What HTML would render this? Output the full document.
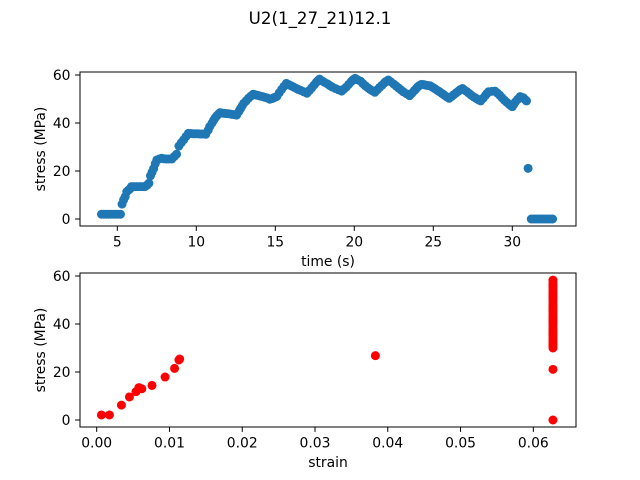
<!DOCTYPE html>
<html><head><meta charset="utf-8"><style>
body{margin:0;background:#fff;}
svg{display:block;font-family:"DejaVu Sans","Liberation Sans",sans-serif;}
</style></head><body>
<svg id="fig" width="640" height="480">
<rect width="640" height="480" fill="#fff"/>
<text x="320" y="24" font-size="16.7" text-anchor="middle">U2(1_27_21)12.1</text>
<g id="top"></g>
<g id="bot"></g>
</svg>
<script>
const timeVals=[4.0,4.15,4.3,4.45,4.6,4.75,4.9,5.05,5.2,5.3,5.4,5.5,5.6,5.7,5.8,5.9,6.05,6.2,6.35,6.5,6.65,6.75,6.9,7.0,7.1,7.2,7.3,7.4,7.5,7.65,7.8,7.95,8.1,8.25,8.45,8.6,8.75,8.9,9.05,9.2,9.35,9.5,9.65,9.8,9.95,10.1,10.25,10.4,10.6,10.75,10.85,11.0,11.1,11.2,11.3,11.4,11.5,11.65,11.8,11.95,12.1,12.25,12.4,12.55,12.7,12.8,12.9,13.0,13.15,13.3,13.45,13.6,13.75,13.9,14.05,14.2,14.35,14.5,14.65,14.8,14.9,15.0,15.1,15.25,15.4,15.55,15.7,15.85,16.0,16.15,16.3,16.45,16.6,16.8,17.0,17.15,17.3,17.45,17.6,17.7,17.8,17.95,18.1,18.3,18.45,18.6,18.8,19.0,19.2,19.35,19.5,19.65,19.8,19.9,20.05,20.2,20.4,20.55,20.7,20.85,21.0,21.15,21.3,21.45,21.6,21.75,21.9,22.0,22.15,22.3,22.5,22.65,22.8,22.95,23.1,23.3,23.5,23.65,23.8,23.9,24.0,24.1,24.25,24.4,24.5,24.65,24.8,24.95,25.1,25.25,25.4,25.55,25.7,25.85,26.0,26.15,26.3,26.45,26.6,26.7,26.85,26.95,27.1,27.25,27.4,27.55,27.7,27.85,28.0,28.15,28.3,28.4,28.5,28.7,28.9,29.05,29.2,29.35,29.5,29.65,29.8,29.9,30.0,30.1,30.2,30.35,30.5,30.6,30.7,30.8,30.9,31.0,31.2,31.35,31.5,31.65,31.8,31.95,32.1,32.25,32.4,32.55];
const stressVals=[2,2,2,2,2,2,2,2,2,6.2,8,9.3,11.4,12,12.5,13.5,13.5,13.5,13.5,13.5,13.5,13.5,14.2,14.9,18,19.5,21,23,24.6,25,25.3,25.1,25,25,25,26,27,30.4,31.8,33,34.4,35.7,35.6,35.5,35.5,35.5,35.4,35.4,35.3,37,38.5,40,41.2,42.2,43,43.7,44.3,44.1,44,43.9,43.8,43.6,43.5,43.3,44.8,46,47.1,48.2,49.2,50.3,51.2,52,51.7,51.5,51.2,51,50.7,50.4,49.9,50.2,50.5,50.8,51.1,52.6,54,55.3,56.5,56,55.5,55,54.5,54,53.6,53,52.4,53.5,54.6,55.8,57,57.7,58.3,57.6,57,56.3,55.6,55,54.4,53.8,53.3,54.2,55,56.1,57.2,57.9,58.6,58,57.4,56.4,55.5,54.7,54,53.4,52.8,53.8,54.8,55.7,56.7,57.3,57.9,57.2,56.2,55.4,54.6,53.8,53,52.2,51.4,52.4,53.5,54.2,55,55.5,56.1,56,55.8,55.6,55.5,54.9,54.3,53.6,53,52.3,51.6,50.9,50.3,51,51.8,52.6,53.3,53.9,54.4,53.8,53.2,52.4,51.6,50.9,50.3,49.7,49.2,50.3,51.5,52.3,53,53.2,53.3,52.5,51.6,50.5,49.5,48.6,47.8,47.3,46.8,47.8,48.8,49.9,51,50.7,50.5,49.8,49.2,21.1,0,0,0,0,0,0,0,0,0,0];
const strainVals=[0.00065,0.00175,0.0034,0.0045,0.0054,0.0058,0.0062,0.0076,0.0094,0.0107,0.0113,0.0114,0.0383,0.0627,0.0627,0.0627,0.0627,0.0627,0.0627,0.0627,0.0627,0.0627,0.0627,0.0627,0.0627,0.0627,0.0627,0.0627,0.0627,0.0627,0.0627,0.0627,0.0627,0.0627,0.0627,0.0627,0.0627,0.0627,0.0627,0.0627,0.0627,0.0627,0.0627,0.0627];
const strainStress=[2.1,2.1,6.2,9.6,11.8,13.5,13,14.4,17.9,21.5,25,25.4,26.8,0,21.1,30,31,32,33,34,35,36,37,38,39,40,41,42,43,44,45,46,47,48,49,50,51,52,53,54,55,56,57,58.3];
const timeTicks=[5,10,15,20,25,30];
const strainTicks=[0.00,0.01,0.02,0.03,0.04,0.05,0.06];
const stressTicks=[0,20,40,60];

const NS="http://www.w3.org/2000/svg";
function mk(tag,attrs,parent,txt){const e=document.createElementNS(NS,tag);for(const k in attrs)e.setAttribute(k,attrs[k]);if(txt!==undefined)e.textContent=txt;parent.appendChild(e);return e;}

function drawAxes(g,top,bottom,xs,ys,xTicks,xFmt,xLabel,xs_,ys_,color,name){
  const L=80,R=576;
  for(let i=0;i<xs_.length;i++){
    const c=mk('circle',{cx:xs(xs_[i]),cy:ys(ys_[i]),r:4.5,fill:color},g);
    
    
  }
  const f=mk('rect',{x:L,y:top,width:R-L,height:bottom-top,fill:'none',stroke:'#000','stroke-width':1},g);
  
  
  xTicks.forEach(t=>{
    const x=xs(t);
    mk('line',{x1:x,x2:x,y1:bottom,y2:bottom+4.9,stroke:'#000'},g);
    const tx=mk('text',{x:x,y:bottom+20.5,'font-size':13.9,'text-anchor':'middle'},g,xFmt(t));
    
    
  });
  stressTicks.forEach(t=>{
    const y=ys(t);
    mk('line',{x1:L-4.9,x2:L,y1:y,y2:y,stroke:'#000'},g);
    const tx=mk('text',{x:L-9.5,y:y+5,'font-size':13.9,'text-anchor':'end'},g,String(t));
    
    
  });
  const xl=mk('text',{x:(L+R)/2,y:bottom+40,'font-size':13.9,'text-anchor':'middle'},g,xLabel);
  
  
  const cy=(top+bottom)/2;
  const yl=mk('text',{x:45,y:cy,'font-size':13.9,'text-anchor':'middle',transform:`rotate(-90 45 ${cy})`},g,'stress (MPa)');
  
  
}
const tX=t=>117.3+(t-5)*15.8;
const tY=s=>219-s*2.4;
drawAxes(document.getElementById('top'),72,226,tX,tY,timeTicks,t=>String(t),'time (s)',timeVals,stressVals,'#1f77b4','time-series');
const sX=e=>96.7+e*7277;
const sY=s=>420-s*2.4;
drawAxes(document.getElementById('bot'),273,427,sX,sY,strainTicks,t=>t.toFixed(2),'strain',strainVals,strainStress,'#ff0000','strain-series');
</script>
</body></html>
